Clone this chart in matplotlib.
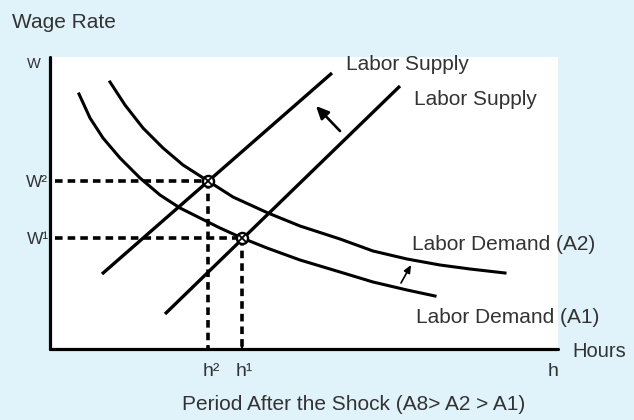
import matplotlib
matplotlib.use("Agg")
import matplotlib.pyplot as plt

# axis units: hours to the right, wage rate upward (0..508 x 0..292)
supply_1_h = [52, 282]
supply_1_w = [75, 276]
supply_2_h = [115, 350]
supply_2_w = [35, 263]

demand_a2_h = [60, 75, 93, 113, 133, 158, 183, 218, 250, 290, 323, 357, 390, 420, 455]
demand_a2_w = [267, 244, 221, 201, 184, 168, 152, 136, 123, 110, 98, 90, 84, 80, 76]
demand_a1_h = [29, 40, 53, 70, 90, 110, 130, 150, 170, 192, 217, 250, 290, 323, 357, 385]
demand_a1_w = [255, 231, 211, 191, 171, 154, 141, 131, 121, 111, 101, 89, 77, 67, 59, 53]

eq_h = [158, 192]   # h2, h1
eq_w = [168, 111]   # W2, W1

bg = '#e0f2fa'
txt = '#333333'
narrow = ['Liberation Sans Narrow', 'Liberation Sans', 'DejaVu Sans']

fig = plt.figure(figsize=(6.34, 4.20), dpi=100, facecolor=bg)
ax = fig.add_axes([50 / 634, 1 - 349 / 420, 508 / 634, 292 / 420])
ax.set_facecolor('white')
ax.set_xlim(0, 508)
ax.set_ylim(0, 292)

for s in ['top', 'right']:
    ax.spines[s].set_visible(False)
for s in ['left', 'bottom']:
    ax.spines[s].set_linewidth(2.3)
    ax.spines[s].set_capstyle('round')

ax.set_yticks([])
ax.set_xticks(eq_h)
ax.set_xticklabels([])
ax.tick_params(axis='x', direction='in', length=3, width=1.5)

ax.plot(supply_1_h, supply_1_w, color='black', lw=2.4, solid_capstyle='butt')
ax.plot(supply_2_h, supply_2_w, color='black', lw=2.4, solid_capstyle='butt')
ax.plot(demand_a2_h, demand_a2_w, color='black', lw=2.2, solid_joinstyle='round')
ax.plot(demand_a1_h, demand_a1_w, color='black', lw=2.2, solid_joinstyle='round')

# dashed guides
for h, w in zip(eq_h, eq_w):
    ax.plot([5, h], [w, w], color='black', lw=2.6, dashes=(2.1, 1.4))
    ax.plot([h, h], [w, 0], color='black', lw=2.6, dashes=(2.1, 1.4))

# equilibrium markers
ax.plot(eq_h, eq_w, 'o', ms=8, mfc='white', mec='black', mew=1.7, zorder=5)
ax.plot(eq_h, eq_w, 'x', ms=5.5, mec='black', mew=1.3, zorder=6)

# shift arrows
ax.annotate('', xy=(266, 243), xytext=(290, 218),
            arrowprops=dict(arrowstyle='-|>,head_length=0.75,head_width=0.35',
                            color='black', lw=1.9, shrinkA=0, shrinkB=0))
ax.annotate('', xy=(361, 84), xytext=(351, 66),
            arrowprops=dict(arrowstyle='-|>,head_length=0.45,head_width=0.2',
                            color='black', lw=1.2, shrinkA=0, shrinkB=0))


def px(x, y):
    return x / 634, 1 - y / 420


fs = 15
fig.text(*px(12, 28), 'Wage Rate', fontsize=fs, color=txt, family='Liberation Sans', va='baseline')
fig.text(*px(346, 70), 'Labor Supply', fontsize=fs, color=txt, family='Liberation Sans', va='baseline')
fig.text(*px(414, 105), 'Labor Supply', fontsize=fs, color=txt, family='Liberation Sans', va='baseline')
fig.text(*px(412, 250), 'Labor Demand (A2)', fontsize=fs, color=txt, family='Liberation Sans', va='baseline')
fig.text(*px(416, 323), 'Labor Demand (A1)', fontsize=fs, color=txt, family='Liberation Sans', va='baseline')
fig.text(*px(572, 357), 'Hours', fontsize=14.5, color=txt, family='Liberation Sans', va='baseline')
fig.text(*px(182, 410), 'Period After the Shock (A8> A2 > A1)', fontsize=fs, color=txt,
         family='Liberation Sans', va='baseline')

fig.text(*px(27, 68), 'W', fontsize=10.5, color=txt, family=narrow, va='baseline')
fig.text(*px(26, 187), 'W²', fontsize=12.5, color=txt, family=narrow, va='baseline')
fig.text(*px(27, 244), 'W¹', fontsize=12.5, color=txt, family=narrow, va='baseline')
fig.text(*px(203, 376), 'h²', fontsize=14, color=txt, family=narrow, va='baseline')
fig.text(*px(236, 376), 'h¹', fontsize=14, color=txt, family=narrow, va='baseline')
fig.text(*px(548, 376), 'h', fontsize=14, color=txt, family=narrow, va='baseline')

fig.savefig('out.png', dpi=100, facecolor=bg)
